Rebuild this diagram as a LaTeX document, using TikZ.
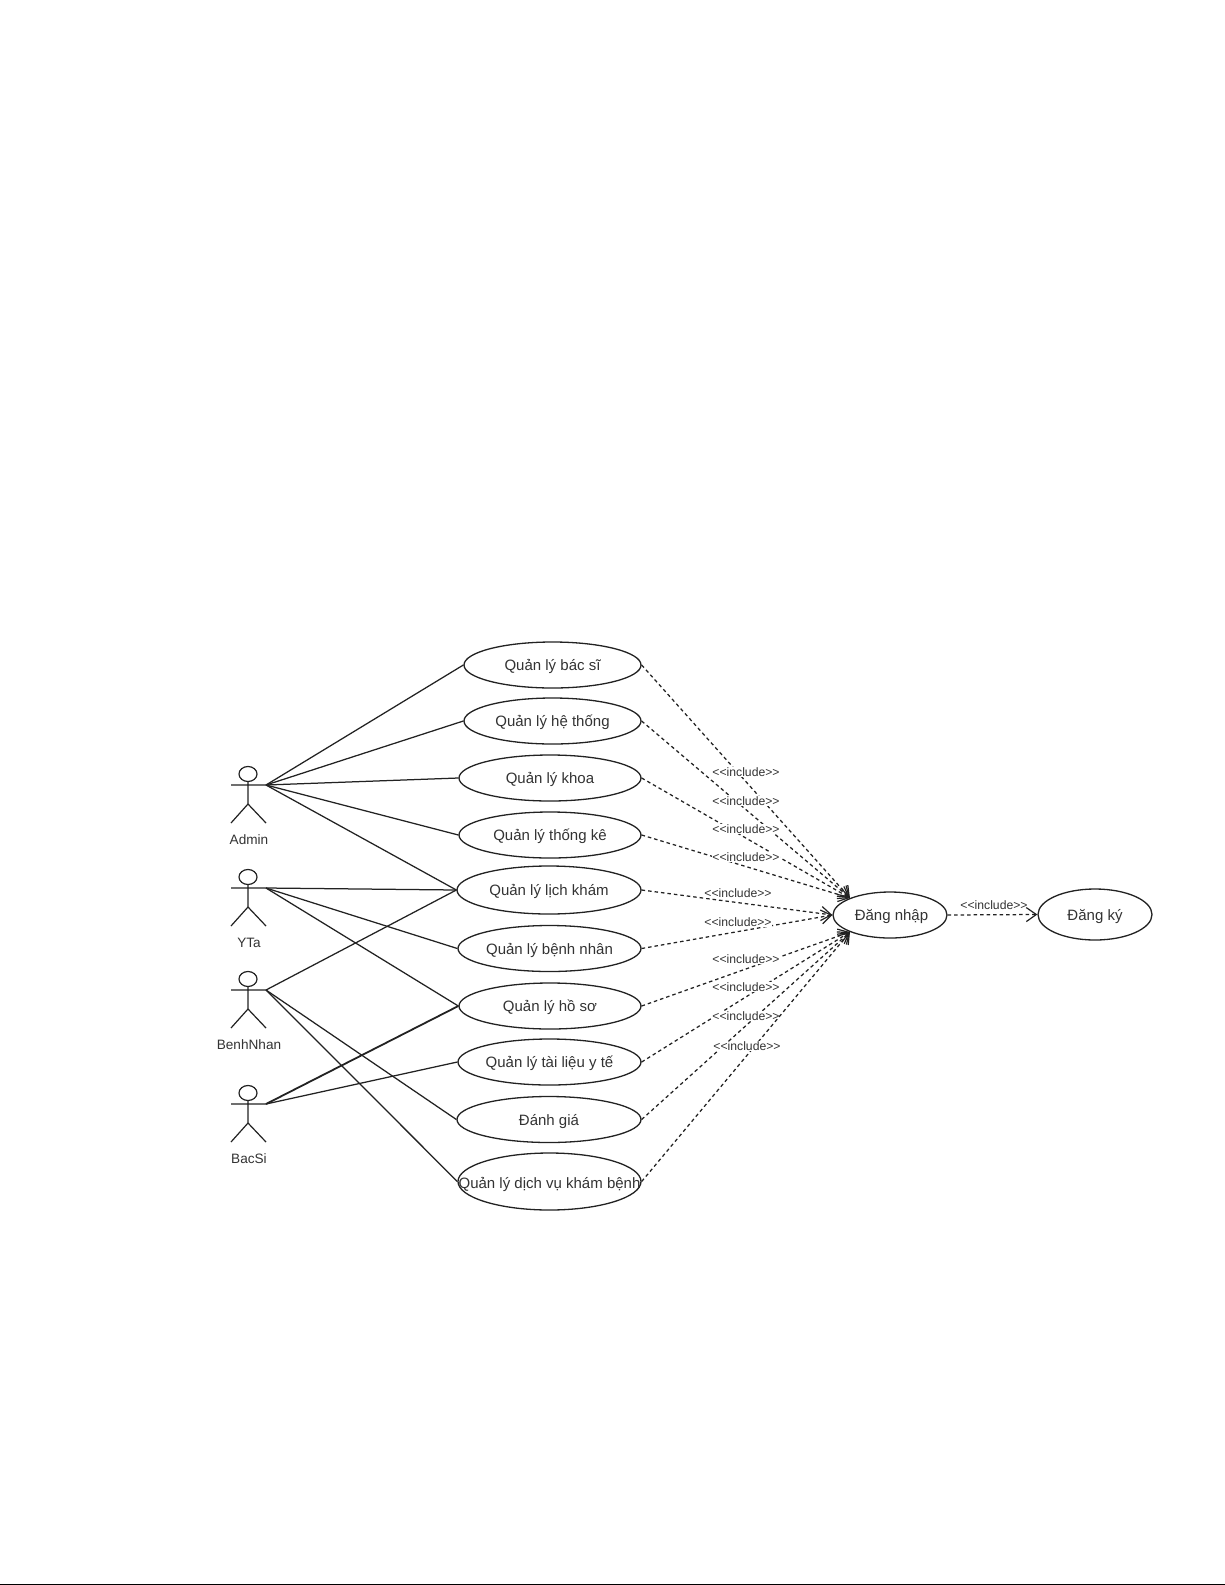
\documentclass[tikz,border=0pt]{standalone}
\usepackage{fontspec}
\setmainfont{Liberation Sans}
\usetikzlibrary{shapes.geometric,arrows.meta}
\definecolor{ink}{HTML}{222222}
\definecolor{txt}{HTML}{333333}
\newcommand{\ctr}[2][-5.7pt]{\raisebox{#1}[0pt][0pt]{\makebox[0pt][c]{#2}}}
\tikzset{
  x=1pt,y=-1pt,
  usecase/.style={ellipse,draw=ink,line width=1.3pt,fill=white,inner sep=0pt,text=txt,font=\fontsize{15}{17}\selectfont},
  actorname/.style={text=txt,inner sep=0pt,font=\fontsize{13.6}{15}\selectfont},
  assoc/.style={draw=ink,line width=1.25pt},
  assocdbl/.style={draw=ink,line width=1.8pt},
  incl/.style={draw=ink,line width=1.25pt,dash pattern=on 3.5pt off 3pt,-{Straight Barb[length=10pt,width=14pt,line width=1.2pt]}},
  incllabel/.style={fill=white,text=txt,inner sep=0.5pt,font=\fontsize{12.2}{13}\selectfont},
  pics/actorfig/.style={code={
    \draw[draw=ink,line width=1.2pt] (0,-11) ellipse [x radius=9,y radius=7.5];
    \draw[draw=ink,line width=1.2pt] (-17,0) -- (18,0) (0,-3.5) -- (0,19) (-17,38) -- (0,19) -- (18,38);
  }}
}
\begin{document}
\begin{tikzpicture}
\useasboundingbox (0,0) rectangle (1225,1585);
\fill[white] (0,0) rectangle (1225,1585);
\fill[black] (0,1583.6) rectangle (1225,1585);

% use cases
\node[usecase,minimum width=177pt,minimum height=46pt] (bacsi) at (552.5,665) {\ctr{Quản lý bác sĩ}};
\node[usecase,minimum width=177pt,minimum height=46pt] (hethong) at (552.5,721) {\ctr{Quản lý hệ thống}};
\node[usecase,minimum width=182pt,minimum height=46pt] (khoa) at (550,778) {\ctr{Quản lý khoa}};
\node[usecase,minimum width=182pt,minimum height=46pt] (thongke) at (550,835) {\ctr{Quản lý thống kê}};
\node[usecase,minimum width=184pt,minimum height=48pt] (lichkham) at (549,890) {\ctr{Quản lý lịch khám}};
\node[usecase,minimum width=183pt,minimum height=46pt] (benhnhan) at (549.5,948.5) {\ctr{Quản lý bệnh nhân}};
\node[usecase,minimum width=182pt,minimum height=46pt] (hoso) at (550,1006) {\ctr{Quản lý hồ sơ}};
\node[usecase,minimum width=183pt,minimum height=46pt] (tailieu) at (549.5,1062) {\ctr{Quản lý tài liệu y tế}};
\node[usecase,minimum width=184pt,minimum height=46pt] (danhgia) at (549,1119.5) {\ctr{Đánh giá}};
\node[usecase,minimum width=183pt,minimum height=57pt] (dichvu) at (549.5,1181.5) {\ctr[-6.5pt]{Quản lý dịch vụ khám bệnh}};
\node[usecase,minimum width=114pt,minimum height=46pt] (dangnhap) at (890,915) {\hspace{3pt}\ctr{Đăng nhập}};
\node[usecase,minimum width=114pt,minimum height=51pt] (dangky) at (1095,914.5) {\ctr{Đăng ký}};

% actors
\pic at (248,785) {actorfig};
\pic at (248,888) {actorfig};
\pic at (248,990) {actorfig};
\pic at (248,1104) {actorfig};
\coordinate (admin) at (266,785);
\coordinate (yta) at (266,888);
\coordinate (bn) at (266,990);
\coordinate (bs) at (266,1104);
\node[actorname] (adminlbl) at (249,840) {Admin};
\node[actorname] (ytalbl) at (249,942.5) {YTa};
\node[actorname] (bnlbl) at (249,1044.5) {BenhNhan};
\node[actorname] (bslbl) at (249,1158.5) {BacSi};

% associations
\draw[assoc] (admin) -- (bacsi.west);
\draw[assoc] (admin) -- (hethong.west);
\draw[assoc] (admin) -- (khoa.west);
\draw[assoc] (admin) -- (thongke.west);
\draw[assoc] (admin) -- (lichkham.west);
\draw[assoc] (yta) -- (lichkham.west);
\draw[assoc] (yta) -- (benhnhan.west);
\draw[assoc] (yta) -- (hoso.west);
\draw[assoc] (bn) -- (lichkham.west);
\draw[assoc] (bn) -- (danhgia.west);
\draw[assoc] (bn) -- (dichvu.west);
\draw[assocdbl] (bs) -- (hoso.west);
\draw[assoc] (bs) -- (tailieu.west);

% includes
\draw[incl] (bacsi.east) -- (dangnhap.157);
\node[incllabel] (i1) at (746,772) {<{}<include>{}>};
\draw[incl] (hethong.east) -- (dangnhap.157);
\node[incllabel] (i2) at (746,801) {<{}<include>{}>};
\draw[incl] (khoa.east) -- (dangnhap.157);
\node[incllabel] (i3) at (746,829) {<{}<include>{}>};
\draw[incl] (thongke.east) -- (dangnhap.157);
\node[incllabel] (i4) at (746,857) {<{}<include>{}>};
\draw[incl] (lichkham.east) -- (dangnhap.west);
\node[incllabel] (i5) at (738,893) {<{}<include>{}>};
\draw[incl] (benhnhan.east) -- (dangnhap.west);
\node[incllabel] (i6) at (738,922) {<{}<include>{}>};
\draw[incl] (hoso.east) -- (dangnhap.203);
\node[incllabel] (i7) at (746,959) {<{}<include>{}>};
\draw[incl] (tailieu.east) -- (dangnhap.203);
\node[incllabel] (i8) at (746,987) {<{}<include>{}>};
\draw[incl] (danhgia.east) -- (dangnhap.203);
\node[incllabel] (i9) at (746,1016) {<{}<include>{}>};
\draw[incl] (dichvu.east) -- (dangnhap.203);
\node[incllabel] (i10) at (747,1046) {<{}<include>{}>};
\draw[incl] (dangnhap.east) -- (dangky.west);
\node[incllabel,fill=none] (i11) at (994,905) {<{}<include>{}>};
\end{tikzpicture}
\end{document}
